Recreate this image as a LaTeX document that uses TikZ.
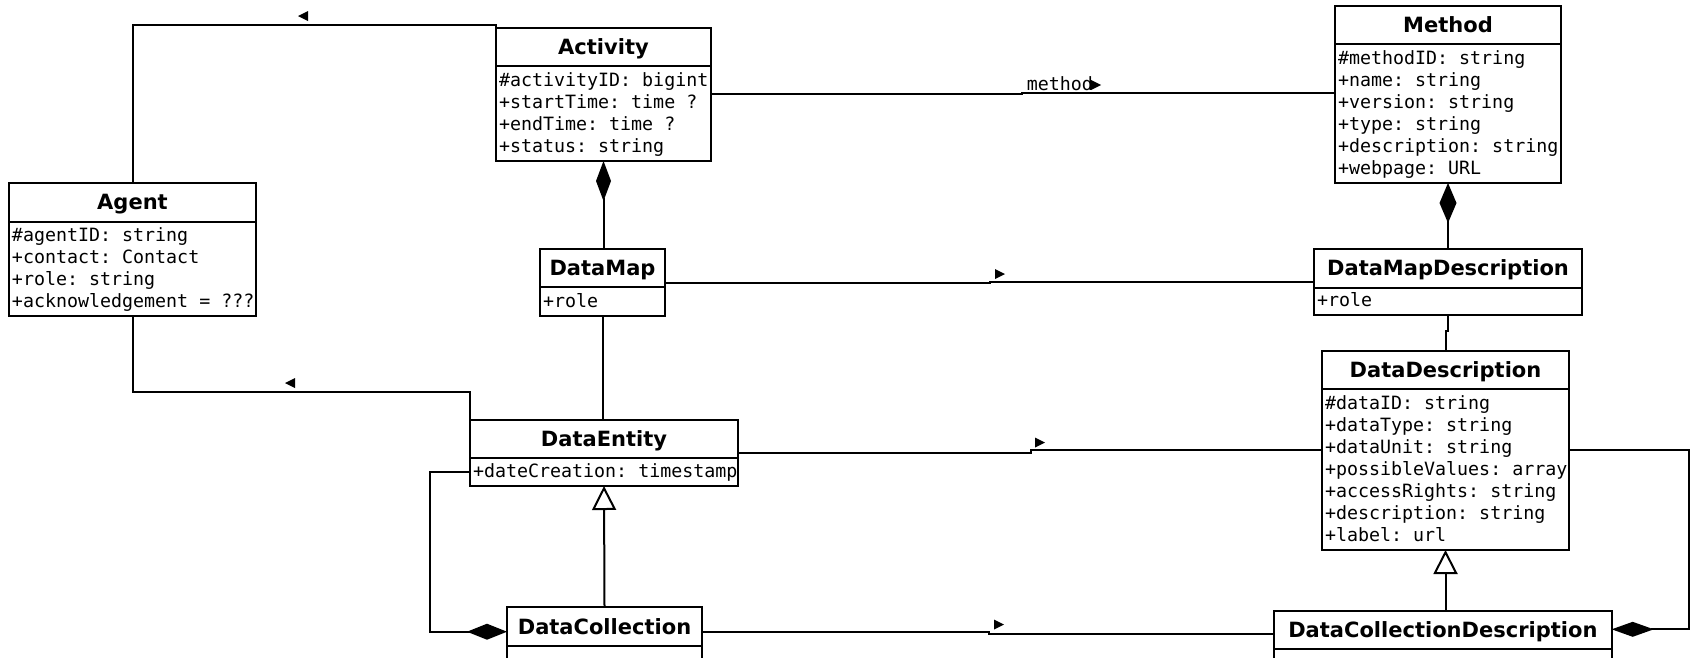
\documentclass[tikz,border=0pt]{standalone}
\usepackage{fontspec}
\newfontfamily\headfont{DejaVu Sans}
\newfontfamily\attrfont{DejaVu Sans Mono}
\newcommand\attrsp{\kern0.602em}
\usetikzlibrary{arrows.meta}
\tikzset{
  classname/.style={draw, line width=2pt, anchor=north west, inner sep=0pt, outer sep=0pt,
    font=\headfont\bfseries\fontsize{21}{25}\selectfont, text height=15.3pt, text depth=0pt},
  classattr/.style={draw, line width=2pt, anchor=north west, inner xsep=3pt, inner ysep=0pt, outer sep=0pt,
    font=\attrfont\fontsize{18.3}{22}\selectfont, align=left,
    execute at begin node={\hyphenpenalty=10000\exhyphenpenalty=10000\rule{0pt}{16.6pt}},
    execute at end node={\rule[-5.4pt]{0pt}{5.4pt}}},
  assoc/.style={line width=2pt},
  compo/.style={assoc, -{Diamond[length=40pt, width=16pt]}},
  gener/.style={assoc, -{Triangle[open, length=24pt, width=24pt]}},
  assocname/.style={font=\attrfont\fontsize{18.3}{22}\selectfont, inner sep=0pt, anchor=base west}
}
\begin{document}
\begin{tikzpicture}[x=1pt, y=-1pt]
  \def\markright#1{\fill #1 -- ++(10,5) -- ++(-10,5) -- cycle;}
  \def\markleft#1{\fill #1 -- ++(10,-5) -- ++(0,10) -- cycle;}
  \useasboundingbox (0,0) rectangle (1692,657);
  \clip (0,0) rectangle (1692,657);

  % classes
  \node[classname, minimum width=247pt, minimum height=38.5pt] (agent) at (9,183) {Agent};
  \node[classattr, text width=241pt, minimum height=94.5pt] (agentattr) at (agent.south west)
    {\#agentID:\attrsp string\\+contact:\attrsp Contact\\+role:\attrsp string\\+acknowledgement\attrsp=\attrsp???};

  \node[classname, minimum width=215pt, minimum height=38pt] (activity) at (496,28) {Activity};
  \node[classattr, text width=209pt, minimum height=95pt] (activityattr) at (activity.south west)
    {\#activityID:\attrsp bigint\\+startTime:\attrsp time\attrsp?\\+endTime:\attrsp time\attrsp?\\+status:\attrsp string};

  \node[classname, minimum width=226pt, minimum height=38.5pt] (method) at (1335,5.5) {Method};
  \node[classattr, text width=220pt, minimum height=139pt] (methodattr) at (method.south west)
    {\#methodID:\attrsp string\\+name:\attrsp string\\+version:\attrsp string\\+type:\attrsp string\\+description:\attrsp string\\+webpage:\attrsp URL};

  \node[classname, minimum width=125pt, minimum height=38pt] (datamap) at (540,249) {DataMap};
  \node[classattr, text width=119pt, minimum height=29pt] (datamapattr) at (datamap.south west) {+role};

  \node[classname, minimum width=268pt, minimum height=38.5pt] (datamapdesc) at (1314,249) {DataMapDescription};
  \node[classattr, text width=262pt, minimum height=27pt] (datamapdescattr) at (datamapdesc.south west) {+role};

  \node[classname, minimum width=247pt, minimum height=38.3pt] (datadesc) at (1322,351) {DataDescription};
  \node[classattr, text width=241pt, minimum height=160.7pt] (datadescattr) at (datadesc.south west)
    {\#dataID:\attrsp string\\+dataType:\attrsp string\\+dataUnit:\attrsp string\\+possibleValues:\attrsp array\\+accessRights:\attrsp string\\+description:\attrsp string\\+label:\attrsp url};

  \node[classname, minimum width=268pt, minimum height=38pt] (dataentity) at (470,420) {DataEntity};
  \node[classattr, text width=262pt, minimum height=28pt] (dataentityattr) at (dataentity.south west)
    {+dateCreation:\attrsp timestamp};

  \node[classname, minimum width=195pt, minimum height=39.3pt] (datacoll) at (507,606.7) {DataCollection};
  \node[classattr, text width=189pt, minimum height=30pt] (datacollattr) at (datacoll.south west) {};

  \node[classname, minimum width=337.7pt, minimum height=38.3pt] (datacolldesc) at (1274,610.7) {DataCollectionDescription};
  \node[classattr, text width=331.7pt, minimum height=30pt] (datacolldescattr) at (datacolldesc.south west) {};

  % associations
  \draw[assoc] (activity.north west) -- ++(0,-3) -| (agent.north);
  \markleft{(298,16)}
  \draw[assoc] (activityattr.east |- 0,94.3) -- (1022.3,94.3) -- (1022.3,93.3) -- (methodattr.west |- 0,93.3);
  \node[assocname] (methodname) at (1026.7,90.7) {method};
  \markright{(1091,80)}
  \draw[assoc] (datamap.east |- 0,283.3) -- (990,283.3) -- (990,282.3) -- (datamapdesc.west |- 0,282.3);
  \markright{(995,269)}
  \draw[assoc] (datamapdescattr.south) -- ++(0,16.7) -| (datadesc.north);
  \draw[assoc] (datamapattr.south) -- (datamapattr.south |- dataentity.north);
  \draw[assoc] (dataentity.north west) -- ++(0,-28) -| (agentattr.south);
  \markleft{(285,383)}
  \draw[assoc] (dataentity.east |- 0,452.7) -- (1030.5,452.7) -- (1030.5,450) -- (datadescattr.west |- 0,450);
  \markright{(1035,437.5)}
  \draw[assoc] (datacoll.east |- 0,631.7) -- (989,631.7) -- (989,634.3) -- (datacolldesc.west |- 0,634.3);
  \markright{(994,619.5)}

  % composition
  \draw[compo, -{Diamond[length=40pt, width=15pt]}] (activityattr.south |- datamap.north) -- (activityattr.south);
  \draw[compo, -{Diamond[length=40pt, width=17pt]}] (datamapdesc.north) -- (methodattr.south);
  \draw[compo] (dataentityattr.west) -- ++(-40,0) |- (datacoll.west |- 0,631.7);
  \draw[compo, -{Diamond[length=42pt, width=15pt]}] (datadescattr.east |- 0,450) -- (1689,450) |- (datacolldesc.east |- 0,629.3);

  % generalization
  \draw[gener] (datacoll.north) -- (dataentityattr.south);
  \draw[gener] (datadescattr.south |- datacolldesc.north) -- (datadescattr.south);
\end{tikzpicture}
\end{document}
